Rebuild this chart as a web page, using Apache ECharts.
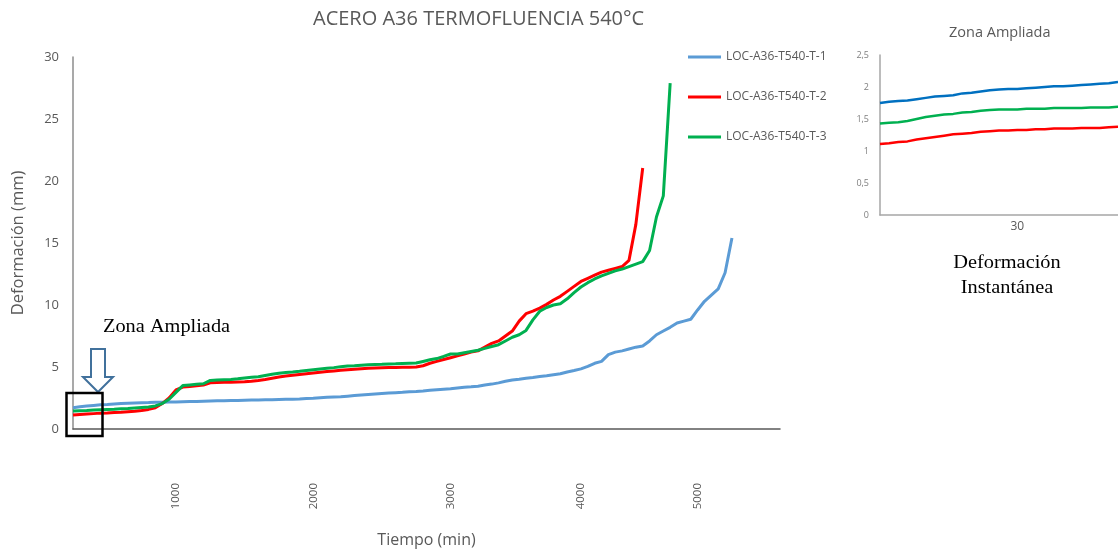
<!DOCTYPE html>
<html>
<head>
<meta charset="utf-8">
<script src="https://cdn.jsdelivr.net/npm/echarts@6/dist/echarts.min.js"></script>
<style>
  html, body { margin: 0; padding: 0; background: #ffffff; }
  #chart { width: 1118px; height: 553px; }
</style>
</head>
<body>
<div id="chart"></div>
<script>
// Creep test, ASTM A36 steel at 540 °C: deformation (mm) against time (min)

// Sampling times (min) used as the category axis
const tiempo = [
  0, 67, 133, 200, 267, 333, 400, 467, 533, 600, 667, 733, 800, 867, 933, 1000,
  1050, 1100, 1150, 1200, 1250, 1300, 1350, 1400, 1450, 1500,
  1550, 1600, 1650, 1700, 1750, 1800, 1850, 1900, 1950, 2000,
  2050, 2100, 2150, 2200, 2250, 2300, 2350, 2400, 2450, 2500,
  2550, 2600, 2650, 2700, 2750, 2800, 2850, 2900, 2950, 3000,
  3053, 3105, 3158, 3211, 3263, 3316, 3368, 3421, 3474, 3526,
  3579, 3632, 3684, 3737, 3789, 3842, 3895, 3947, 4000,
  4059, 4118, 4176, 4235, 4294, 4353, 4412, 4471, 4529, 4588,
  4647, 4706, 4765, 4824, 4882, 4941, 5000,
  5059, 5118, 5176, 5235, 5294, 5353, 5412, 5471, 5529, 5588, 5647, 5706
];

const nombres = ['LOC-A36-T540-T-1', 'LOC-A36-T540-T-2', 'LOC-A36-T540-T-3'];

// Probeta T-1
const defT1 = [
  1.72, 1.80, 1.85, 1.90, 1.95, 1.98, 2.02, 2.05, 2.08, 2.10,
  2.12, 2.13, 2.15, 2.16, 2.17, 2.18, 2.20, 2.21, 2.22, 2.24,
  2.26, 2.28, 2.28, 2.29, 2.30, 2.32, 2.33, 2.34, 2.35, 2.36,
  2.38, 2.40, 2.40, 2.42, 2.45, 2.48, 2.52, 2.56, 2.58, 2.60,
  2.65, 2.70, 2.74, 2.78, 2.82, 2.86, 2.90, 2.93, 2.96, 3.00,
  3.03, 3.07, 3.12, 3.16, 3.20, 3.24, 3.30, 3.36, 3.40, 3.45,
  3.55, 3.62, 3.72, 3.85, 3.95, 4.02, 4.10, 4.16, 4.24, 4.30,
  4.38, 4.45, 4.60, 4.72, 4.85, 5.05, 5.30, 5.45, 6.00, 6.20,
  6.30, 6.45, 6.60, 6.70, 7.10, 7.60, 7.90, 8.20, 8.55, 8.70,
  8.85, 9.60, 10.30, 10.80, 11.30, 12.60, 15.40
];

// Probeta T-2
const defT2 = [
  1.12, 1.16, 1.20, 1.24, 1.28, 1.30, 1.33, 1.36, 1.40, 1.44,
  1.50, 1.58, 1.72, 2.05, 2.50, 3.15, 3.38, 3.42, 3.48, 3.55,
  3.72, 3.75, 3.77, 3.78, 3.80, 3.82, 3.86, 3.92, 4.00, 4.10,
  4.20, 4.28, 4.34, 4.40, 4.46, 4.52, 4.58, 4.63, 4.68, 4.73,
  4.78, 4.82, 4.86, 4.90, 4.92, 4.94, 4.95, 4.96, 4.97, 4.98,
  5.00, 5.10, 5.30, 5.45, 5.60, 5.75, 5.90, 6.05, 6.20, 6.30,
  6.60, 6.90, 7.10, 7.50, 7.90, 8.70, 9.30, 9.50, 9.75, 10.05,
  10.40, 10.70, 11.10, 11.50, 11.90, 12.15, 12.40, 12.65, 12.80, 12.95,
  13.10, 13.60, 16.50, 21.05
];

// Probeta T-3
const defT3 = [
  1.45, 1.48, 1.50, 1.53, 1.56, 1.58, 1.60, 1.63, 1.66, 1.70,
  1.74, 1.78, 1.86, 2.05, 2.40, 2.95, 3.50, 3.55, 3.60, 3.65,
  3.92, 3.96, 3.98, 4.00, 4.05, 4.12, 4.18, 4.22, 4.32, 4.42,
  4.50, 4.56, 4.60, 4.65, 4.72, 4.78, 4.84, 4.90, 4.95, 5.02,
  5.08, 5.10, 5.15, 5.18, 5.20, 5.22, 5.25, 5.26, 5.28, 5.30,
  5.32, 5.45, 5.58, 5.68, 5.85, 6.05, 6.05, 6.15, 6.25, 6.35,
  6.50, 6.65, 6.80, 7.10, 7.40, 7.60, 7.95, 8.80, 9.50, 9.80,
  10.00, 10.10, 10.50, 11.00, 11.45, 11.80, 12.10, 12.35, 12.55, 12.75,
  12.90, 13.10, 13.30, 13.50, 14.40, 17.10, 18.80, 27.90
];

// Detail of the first minutes (instantaneous deformation)
const tiempoAmpliado = [
  0, 2, 4, 6, 8, 10, 12, 14, 16, 18, 20, 22, 24, 26, 28,
  30, 32, 34, 36, 38, 40, 42, 44, 46, 48, 50, 52
];
const ampT1 = [
  1.75, 1.77, 1.78, 1.79, 1.81, 1.83, 1.85, 1.86, 1.87, 1.90,
  1.91, 1.93, 1.95, 1.96, 1.97, 1.97, 1.98, 1.99, 2.00, 2.01,
  2.01, 2.02, 2.03, 2.04, 2.05, 2.06, 2.08
];
const ampT2 = [
  1.11, 1.12, 1.14, 1.15, 1.18, 1.20, 1.22, 1.24, 1.26, 1.27,
  1.28, 1.30, 1.31, 1.32, 1.32, 1.33, 1.33, 1.34, 1.34, 1.35,
  1.35, 1.35, 1.36, 1.36, 1.36, 1.37, 1.38
];
const ampT3 = [
  1.43, 1.44, 1.45, 1.47, 1.50, 1.53, 1.55, 1.57, 1.58, 1.60,
  1.61, 1.63, 1.64, 1.65, 1.65, 1.65, 1.66, 1.66, 1.66, 1.67,
  1.67, 1.67, 1.67, 1.68, 1.68, 1.68, 1.69
];

const colores = ['#5B9BD5', '#FF0000', '#00B050'];
const coloresAmpliado = ['#0070C0', '#FF0000', '#00B050'];
const fuente = 'Open Sans';
const serif = '"Liberation Serif"';
const gris = '#595959';

const chart = echarts.init(document.getElementById('chart'));

function serieLinea(name, data, color, width, idx) {
  return {
    name: name,
    type: 'line',
    data: data,
    xAxisIndex: idx,
    yAxisIndex: idx,
    symbol: 'none',
    smooth: false,
    clip: true,
    lineStyle: { color: color, width: width },
    itemStyle: { color: color },
    emphasis: { disabled: true }
  };
}

chart.setOption({
  animation: false,
  backgroundColor: '#ffffff',
  textStyle: { fontFamily: fuente },
  title: [
    {
      text: 'ACERO A36 TERMOFLUENCIA 540°C',
      left: 308, top: 4,
      textStyle: { fontFamily: fuente, fontSize: 20, fontWeight: 'normal', color: gris }
    },
    {
      text: 'Zona Ampliada',
      left: 944, top: 20,
      textStyle: { fontFamily: fuente, fontSize: 14.5, fontWeight: 'normal', color: gris }
    }
  ],
  legend: {
    orient: 'vertical',
    left: 688, top: 51, padding: 0,
    icon: 'rect',
    itemWidth: 33, itemHeight: 3, itemGap: 28,
    data: nombres,
    textStyle: { fontFamily: fuente, fontSize: 12, color: gris }
  },
  grid: [
    { left: 73, top: 57, width: 707, height: 373 },
    { left: 880, top: 55, width: 238, height: 160 }
  ],
  xAxis: [
    {
      type: 'category',
      gridIndex: 0,
      data: tiempo,
      boundaryGap: false,
      axisLine: { lineStyle: { color: '#595959', width: 1.5 } },
      axisTick: { show: false },
      axisLabel: {
        rotate: 90, margin: 54, fontSize: 11.5, color: gris, fontFamily: fuente,
        interval: function (i, v) { return Number(v) > 0 && Number(v) % 1000 === 0; }
      },
      splitLine: { show: false },
      name: 'Tiempo (min)',
      nameLocation: 'middle',
      nameGap: 103,
      nameTextStyle: { fontSize: 16, color: gris, fontFamily: fuente }
    },
    {
      type: 'category',
      gridIndex: 1,
      data: tiempoAmpliado,
      boundaryGap: false,
      axisLine: { lineStyle: { color: '#a6a6a6', width: 1.5 } },
      axisTick: { show: false },
      axisLabel: {
        margin: 6, fontSize: 12, color: gris, fontFamily: fuente,
        interval: function (i, v) { return String(v) === '30'; }
      },
      splitLine: { show: false }
    }
  ],
  yAxis: [
    {
      type: 'value',
      gridIndex: 0,
      min: 0, max: 30, interval: 5,
      axisLine: { show: true, lineStyle: { color: '#8c8c8c', width: 1.5 } },
      axisTick: { show: false },
      splitLine: { show: false },
      axisLabel: { fontSize: 13, color: gris, margin: 14, fontFamily: fuente },
      name: 'Deformación (mm)',
      nameLocation: 'middle',
      nameGap: 46,
      nameTextStyle: { fontSize: 16.5, color: gris, fontFamily: fuente }
    },
    {
      type: 'value',
      gridIndex: 1,
      min: 0, max: 2.5, interval: 0.5,
      axisLine: { show: true, lineStyle: { color: '#a6a6a6', width: 1.5 } },
      axisTick: { show: false },
      splitLine: { show: false },
      axisLabel: {
        fontSize: 9, color: '#7f7f7f', margin: 11, fontFamily: fuente,
        formatter: function (v) { return String(v).replace('.', ','); }
      }
    }
  ],
  series: [
    serieLinea(nombres[0], defT1, colores[0], 3, 0),
    serieLinea(nombres[1], defT2, colores[1], 3, 0),
    serieLinea(nombres[2], defT3, colores[2], 3, 0),
    serieLinea(nombres[0], ampT1, coloresAmpliado[0], 2.5, 1),
    serieLinea(nombres[1], ampT2, coloresAmpliado[1], 2.5, 1),
    serieLinea(nombres[2], ampT3, coloresAmpliado[2], 2.5, 1)
  ],
  graphic: [
    {
      type: 'text', z: 100, x: 103, y: 327, scaleX: 1.13,
      style: { text: 'Zona Ampliada', font: '18px ' + serif, fill: '#000', verticalAlign: 'middle' }
    },
    {
      type: 'polygon', z: 100,
      shape: { points: [[91, 349], [105, 349], [105, 377], [113, 377], [98, 392], [83, 377], [91, 377]] },
      style: { fill: '#ffffff', stroke: '#41719C', lineWidth: 2 }
    },
    {
      type: 'rect', z: 100,
      shape: { x: 66.5, y: 393, width: 36, height: 43 },
      style: { fill: 'none', stroke: '#000000', lineWidth: 2.5 }
    },
    {
      type: 'text', z: 100, x: 1007, y: 263, scaleX: 1.13,
      style: { text: 'Deformación', font: '18px ' + serif, fill: '#000', align: 'center', verticalAlign: 'middle' }
    },
    {
      type: 'text', z: 100, x: 1007, y: 288, scaleX: 1.13,
      style: { text: 'Instantánea', font: '18px ' + serif, fill: '#000', align: 'center', verticalAlign: 'middle' }
    }
  ]
});
</script>
</body>
</html>
